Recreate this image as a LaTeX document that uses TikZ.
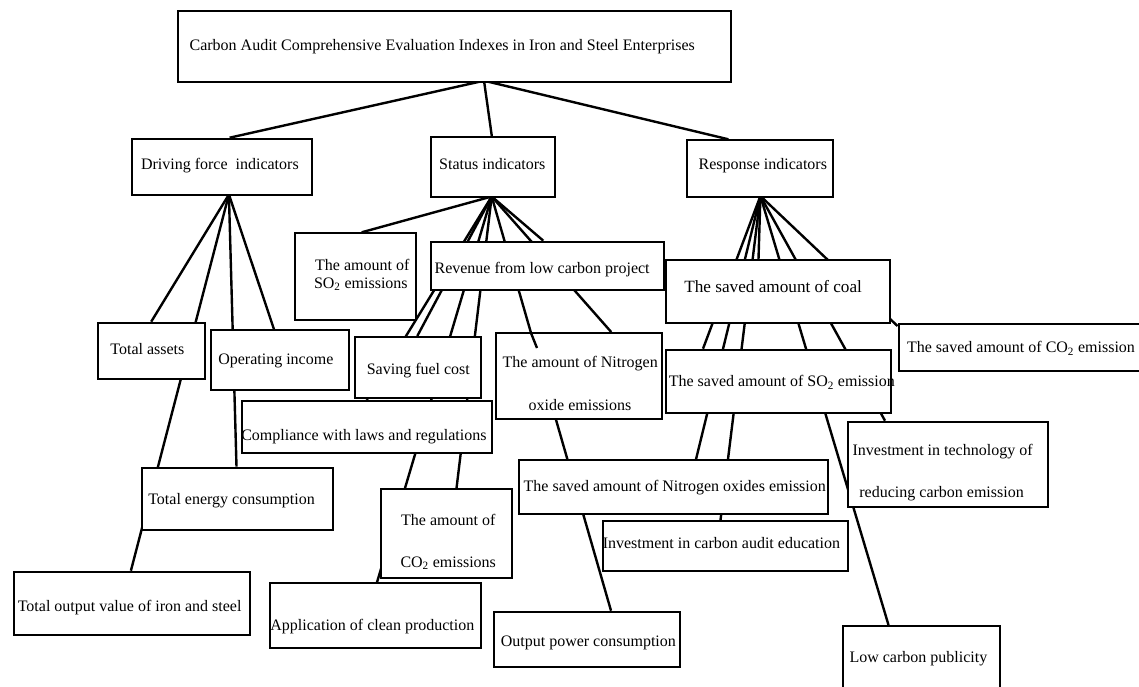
\documentclass[tikz,border=0pt]{standalone}
\usepackage{fontspec}
\setmainfont{Liberation Serif}
\usetikzlibrary{calc}
\pgfdeclarelayer{bg}
\pgfsetlayers{bg,main}
\newcommand\fs{\fontsize{16}{19}\selectfont}
\newcommand\fcoal{\fontsize{17.2}{20}\selectfont}
\newcommand\mybox[5]{\node[box, minimum width={(#4-#2)*1pt}, minimum height={(#5-#3)*1pt}] (#1) at (#2,#3) {};}
\begin{document}
\begin{tikzpicture}[x=1pt,y=-1pt,
  box/.style={draw, line width=2pt, fill=white, inner sep=0pt, anchor=north west},
  conn/.style={line width=2.4pt},
  lbl/.style={inner sep=0pt, anchor=base west, font=\fs}]
\useasboundingbox (0,0) rectangle (1139,686);

% boxes
\mybox{root}{176.8}{10}{730.3}{80.7}
\mybox{drive}{130.9}{137.7}{311.1}{193.7}
\mybox{status}{430.2}{136}{553.8}{195.7}
\mybox{resp}{686.4}{139.3}{831.7}{195.7}
\mybox{so2amt}{293.5}{232.3}{414.5}{319}
\mybox{revenue}{430.2}{240.7}{662.7}{289.3}
\mybox{coal}{665.3}{259}{889.2}{321.7}
\mybox{co2saved}{897.5}{322.7}{1150}{370}
\mybox{assets}{97.2}{321.7}{203.6}{378}
\mybox{income}{209.7}{329.3}{347.5}{389}
\mybox{fuel}{354.4}{336}{480.3}{396.7}
\mybox{nitroamt}{494.8}{332}{660.8}{418.3}
\mybox{so2saved}{664.6}{348.7}{890}{411.7}
\mybox{laws}{241.1}{400}{491.4}{452}
\mybox{tech}{846.8}{420.7}{1047}{506}
\mybox{energy}{141.2}{466.7}{332.2}{529}
\mybox{nitrosaved}{517.8}{459.3}{827.2}{513.3}
\mybox{co2amt}{380.4}{488.3}{510.9}{577.3}
\mybox{audit}{601.5}{520}{846.8}{570}
\mybox{output}{12.6}{570.7}{249.1}{634}
\mybox{clean}{269}{582.3}{480.3}{646.7}
\mybox{power}{492.9}{610.7}{678.9}{666}
\mybox{public}{841.9}{625}{999}{700}

% texts
\node[lbl] (t-root) at (189.4,50) {Carbon Audit Comprehensive Evaluation Indexes in Iron and Steel Enterprises};
\node[lbl] (t-drive) at (140.8,169) {Driving force\ \ indicators};
\node[lbl] (t-status) at (439,169) {Status indicators};
\node[lbl] (t-resp) at (698.4,169) {Response indicators};
\node[lbl] (t-so2amt1) at (315,270) {The amount of};
\node[lbl] (t-so2amt2) at (313.8,288.3) {SO\textsubscript{2} emissions};
\node[lbl] (t-revenue) at (434.4,273.3) {Revenue from low carbon project};
\node[lbl, font=\fcoal] (t-coal) at (684.1,292.8) {The saved amount of coal};
\node[lbl] (t-co2saved) at (906.9,352.7) {The saved amount of CO\textsubscript{2} emission};
\node[lbl] (t-assets) at (110.2,354) {Total assets};
\node[lbl] (t-income) at (218.1,364.3) {Operating income};
\node[lbl] (t-fuel) at (366.6,374.3) {Saving fuel cost};
\node[lbl] (t-nitroamt1) at (502.5,367.7) {The amount of Nitrogen};
\node[lbl] (t-nitroamt2) at (528.5,410) {oxide emissions};
\node[lbl] (t-so2saved) at (668.6,386.7) {The saved amount of SO\textsubscript{2} emission};
\node[lbl] (t-laws) at (241.1,440.3) {Compliance with laws and regulations};
\node[lbl] (t-tech1) at (852.4,455.7) {Investment in technology of};
\node[lbl] (t-tech2) at (859.2,497.7) {reducing carbon emission};
\node[lbl] (t-energy) at (148.1,504.3) {Total energy consumption};
\node[lbl] (t-nitrosaved) at (523.5,491.7) {The saved amount of Nitrogen oxides emission};
\node[lbl] (t-co2amt1) at (401,525) {The amount of};
\node[lbl] (t-co2amt2) at (400.3,567.3) {CO\textsubscript{2} emissions};
\node[lbl] (t-audit) at (602.6,548.3) {Investment in carbon audit education};
\node[lbl] (t-output) at (17.6,611) {Total output value of iron and steel};
\node[lbl] (t-clean) at (270.2,630) {Application of clean production};
\node[lbl] (t-power) at (500.6,646.7) {Output power consumption};
\node[lbl] (t-public) at (849.3,662.3) {Low carbon publicity};

% hubs
\coordinate (rh) at (484,80.7);
\coordinate (dh) at (228.9,194.5);
\coordinate (sh) at (491.7,196.5);
\coordinate (ph) at (760.4,196);

\begin{pgfonlayer}{bg}
% root
\draw[conn] (rh) -- ([xshift=98.7pt]drive.north west);
\draw[conn] (rh) -- ([xshift=61.6pt]status.north west);
\draw[conn] (rh) -- ([xshift=42pt]resp.north west);
% driving force
\draw[conn] (dh) -- ([xshift=54pt]assets.north west);
\draw[conn] (dh) -- ([xshift=118.3pt]output.north west);
\draw[conn] (dh) -- ([xshift=95.3pt]energy.north west);
\draw[conn] (dh) -- ([xshift=64.3pt]income.north west);
% status
\draw[conn] (sh) -- ([xshift=68.2pt]so2amt.north west);
\draw[conn] (sh) -- ([xshift=113.1pt]revenue.north west);
\draw[conn] (sh) -- ([xshift=125.6pt]laws.north west);
\draw[conn] (sh) -- ([xshift=62.9pt]fuel.north west);
\draw[conn] (sh) -- ([xshift=108pt]clean.north west);
\draw[conn] (sh) -- ([xshift=76.1pt]co2amt.north west);
\draw[conn] (sh) -- ([xshift=118.1pt]power.north west);
\draw[conn] (sh) -- ([xshift=116.4pt]nitroamt.north west);
% response
\draw[conn] (ph) -- ([xshift=38.4pt]so2saved.north west);
\draw[conn] (ph) -- ([xshift=178.2pt]nitrosaved.north west);
\draw[conn] (ph) -- ([xshift=119pt]audit.north west);
\draw[conn] (ph) -- ([xshift=93.2pt]coal.north west);
\draw[conn] (ph) -- ([xshift=46.6pt]public.north west);
\draw[conn] (ph) -- ([xshift=38.2pt]tech.north west);
\draw[conn] (ph) -- ([yshift=-3.3pt]co2saved.north west);
\end{pgfonlayer}

% visible piece of the status line over the nitrogen box
\draw[conn] ([xshift=35.8pt]nitroamt.north west) -- (537,348);
\end{tikzpicture}
\end{document}
